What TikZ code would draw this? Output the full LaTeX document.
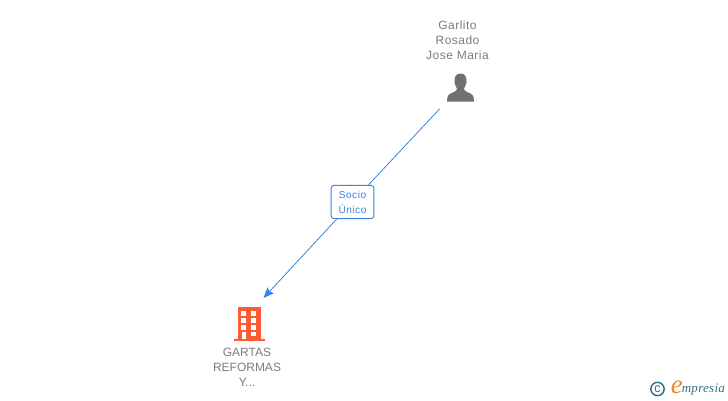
\documentclass[tikz,border=0pt]{standalone}
\usepackage{fontspec}
\setmainfont{Liberation Sans}
\newfontfamily\lcfont[LetterSpace=4]{Liberation Sans}
\newfontfamily\tagfont[LetterSpace=5]{Liberation Sans}
\newfontfamily\logofont[LetterSpace=2]{Liberation Serif}
\usetikzlibrary{arrows.meta}
\definecolor{lbl}{RGB}{125,125,125}
\definecolor{blu}{RGB}{60,130,225}
\definecolor{bld}{RGB}{255,92,51}
\definecolor{prs}{RGB}{112,112,112}
\definecolor{teal1}{RGB}{50,115,140}
\definecolor{org}{RGB}{240,135,30}
\tikzset{
  nm/.style={font=\fontsize{9}{11.25}\selectfont,text=lbl,align=center,inner sep=0pt},
  conn/.style={draw=blu,line width=0.6pt},
  tag/.style={draw=blu,line width=0.7pt,rounded corners=2.2pt,fill=white,text=blu,align=center,
    font=\tagfont\fontsize{7.6}{11.25}\selectfont,minimum width=32pt,minimum height=25pt,inner sep=0pt},
}
\begin{document}
\begin{tikzpicture}[x=0.75pt,y=-0.75pt]
\useasboundingbox (0,0) rectangle (728,400);
\fill[white] (0,0) rectangle (728,400);
\coordinate (from) at (439.5,109);
\coordinate (to) at (263.5,298);
\node[tag] (lab) at (352.5,202) {Socio\\Único};
\draw[conn] (from) -- (lab);
\draw[conn,-{Stealth[length=8pt,width=6.5pt,inset=1.5pt]}] (lab) -- (to);
\node[nm,font=\lcfont\fontsize{9}{11.25}\selectfont] (top) at (457.5,40.5) {Garlito\\Rosado\\Jose Maria};
\node[nm] (bot) at (247,367.5) {GARTAS\\REFORMAS\\Y...};
% person
\fill[prs] (460.5,73.5) .. controls (455.5,73.5) and (454,78) .. (454.5,82)
  .. controls (455,85) and (456,87) .. (457,88.5)
  .. controls (457,90.5) and (456,91) .. (453,92.5)
  .. controls (449,94) and (447,95) .. (447,101.5)
  -- (474,101.5)
  .. controls (474,95) and (472,94) .. (468,92.5)
  .. controls (465,91) and (464,90.5) .. (464,88.5)
  .. controls (465,87) and (466,85) .. (466.5,82)
  .. controls (467,78) and (465.5,73.5) .. (460.5,73.5) -- cycle;
% building
\fill[bld] (233.5,338.5) rectangle (265,341);
\fill[bld] (238,307) rectangle (261,338.5);
\foreach \yy in {311,318,325} {
  \fill[white] (241.3,\yy) rectangle (246,\yy+4.5);
  \fill[white] (251.3,\yy) rectangle (256,\yy+4.5);
}
\fill[white] (241.8,332) rectangle (246,338.5);
\fill[white] (251.3,332) rectangle (256,336);
% logo
\node[circle,draw=teal1,line width=1.1pt,minimum size=10pt,inner sep=0pt,text=teal1,font=\fontsize{9.5}{9.5}\selectfont] (copy) at (657.5,389) {\raisebox{0.5pt}{c}};
\node[inner sep=0pt,text=org,font=\fontsize{20}{20}\selectfont\logofont] (e) at (677,387.5) {\textit{e}};
\node[inner sep=0pt,text=teal1,anchor=west,font=\fontsize{9.8}{10}\selectfont\logofont] (brand) at (681.5,389.5) {\textit{mpresia}};
\end{tikzpicture}
\end{document}
